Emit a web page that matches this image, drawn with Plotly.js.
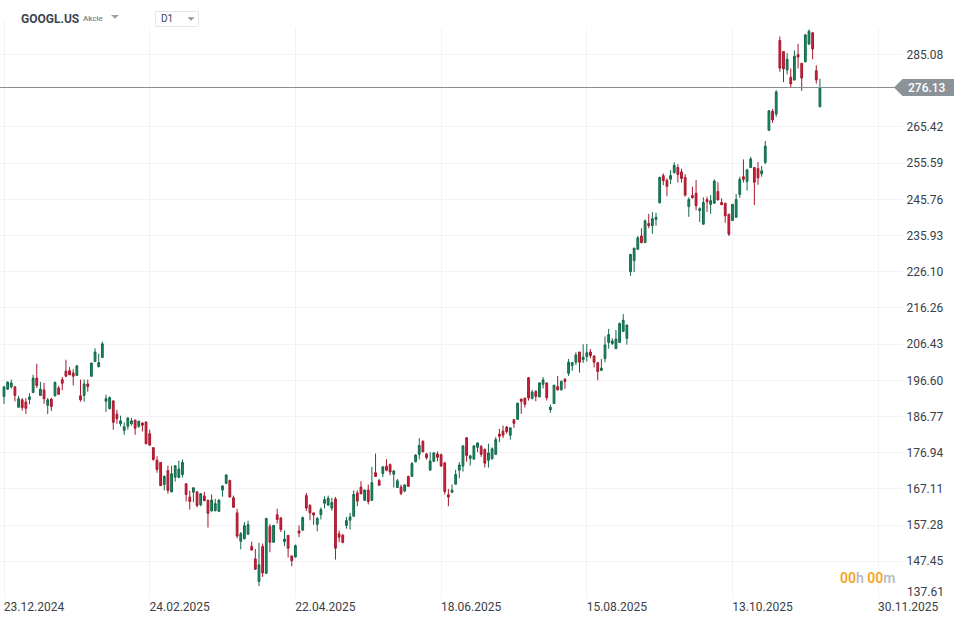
<!DOCTYPE html>
<html>
<head>
<meta charset="utf-8">
<script src="https://cdn.plot.ly/plotly-3.0.1.min.js"></script>
<style>html,body{margin:0;padding:0;background:#fff}#c{width:966px;height:623px}</style>
</head>
<body>
<div id="c"></div>
<script>
const opens = [192.2,194.2,194.8,194.8,189.3,191.3,190.7,191.4,193.3,197.2,
192.5,194.0,189.8,191.5,192.4,194.5,196.8,199.1,199.2,198.6,
197.9,192.4,192.5,195.6,197.7,201.7,200.3,202.8,190.9,188.9,
191.0,187.4,184.8,183.0,184.1,184.8,185.8,184.1,185.0,185.3,
182.1,178.3,174.9,174.3,168.3,172.1,166.3,170.3,170.2,171.0,
168.5,164.9,166.2,166.3,162.8,165.2,164.0,161.1,161.2,161.0,
166.8,168.6,169.4,164.7,160.6,152.9,153.6,154.8,151.5,148.1,
142.0,151.5,144.2,156.9,152.6,160.1,159.2,152.8,154.5,148.9,
148.6,155.7,155.9,165.3,162.6,160.6,157.5,160.1,163.2,162.7,
161.9,164.4,154.9,154.5,157.2,158.6,159.7,166.0,167.6,164.0,
166.8,164.0,171.5,169.4,171.3,173.3,173.7,171.1,167.5,167.6,
166.5,170.5,170.5,174.5,176.5,180.1,176.6,172.2,174.6,176.6,
176.4,174.2,165.5,166.2,168.4,172.2,173.3,181.0,175.4,175.2,
178.4,178.6,177.9,174.9,175.3,176.5,182.0,182.8,183.9,181.7,
185.9,186.0,191.5,191.8,197.3,191.7,193.6,192.1,195.5,195.9,
188.6,190.3,194.9,194.0,196.9,198.5,200.6,201.5,204.3,202.2,
203.0,204.3,203.2,201.4,199.3,202.5,206.9,206.6,205.2,206.9,
209.9,208.0,226.1,229.1,232.2,235.8,234.0,239.2,238.6,240.3,
244.8,252.2,250.9,251.2,253.0,254.4,253.2,251.7,243.8,246.8,
247.4,242.7,239.0,245.7,244.4,244.7,247.9,244.9,244.7,241.7,
240.0,240.9,247.1,251.9,250.6,254.4,254.4,254.1,252.7,255.8,
264.5,269.7,268.9,288.9,285.9,280.9,278.9,278.2,285.1,282.7,
283.1,287.9,291.0,280.7,270.9];
const highs = [195.1,196.3,196.8,195.1,192.4,191.8,191.8,193.1,198.1,201.1,
196.2,195.9,191.8,191.8,196.3,195.1,197.5,202.2,200.2,199.6,
200.8,196.8,196.8,196.8,201.4,205.3,203.8,207.1,192.7,192.2,
191.2,188.6,187.0,185.2,186.5,186.4,185.9,185.6,185.2,185.4,
183.2,178.5,176.0,174.4,170.8,173.4,173.4,173.5,174.8,175.1,
168.6,166.6,167.6,166.5,165.8,166.3,164.2,165.6,164.4,164.2,
168.1,171.0,169.6,165.3,161.7,155.4,158.1,158.5,152.8,150.8,
152.5,152.3,159.2,157.6,157.3,161.7,159.5,155.8,154.6,149.0,
152.0,157.2,159.6,166.0,163.0,160.6,159.5,162.1,165.1,165.3,
164.7,164.9,155.8,154.9,159.5,160.6,166.7,166.7,169.2,166.9,
168.3,173.1,176.7,169.8,173.3,175.2,174.0,172.2,169.8,168.3,
168.3,170.7,174.4,176.5,180.9,180.2,176.9,177.1,177.0,177.3,
176.7,174.3,167.1,168.3,172.3,174.4,178.9,181.2,176.2,178.9,
179.7,179.1,178.0,179.4,178.4,181.2,183.4,184.3,184.2,183.9,
186.1,190.5,191.6,191.8,197.5,194.0,193.9,196.0,197.5,196.0,
190.0,195.3,197.8,196.6,197.2,202.4,201.4,204.2,204.3,206.4,
206.5,205.1,203.4,201.5,202.4,208.5,210.6,208.0,210.3,212.3,
214.6,211.7,230.9,232.5,235.8,237.9,240.3,241.8,242.3,242.1,
251.9,252.8,251.5,253.7,255.8,255.3,254.1,252.6,246.3,249.2,
251.0,243.6,246.3,246.5,246.9,251.2,250.4,246.0,244.8,241.8,
244.5,247.2,251.9,256.6,254.1,257.3,254.4,255.9,254.8,261.6,
270.0,270.3,275.4,290.0,286.0,285.5,281.3,286.2,288.0,282.8,
290.7,291.9,291.1,282.2,278.5];
const lows = [190.2,194.0,194.4,190.9,189.2,188.4,187.5,190.1,193.1,194.5,
192.4,190.2,187.4,188.3,192.2,192.7,193.9,197.5,198.0,195.2,
197.8,190.8,190.8,193.5,197.6,201.6,200.1,202.7,188.0,188.7,
183.2,184.8,184.1,181.8,183.2,184.3,181.8,183.7,182.7,179.2,
178.9,174.8,171.5,167.9,166.7,165.8,166.2,169.1,170.1,170.2,
163.7,161.5,163.5,162.1,162.4,163.8,156.6,161.0,161.0,160.9,
165.0,168.4,164.8,162.1,153.7,150.7,153.4,154.7,150.4,145.1,
140.7,143.2,144.0,149.9,152.6,157.7,155.4,151.6,148.5,146.1,
148.5,154.0,155.8,161.1,158.6,157.4,155.6,158.8,161.8,162.6,
161.2,147.9,152.6,152.3,156.3,156.1,159.6,162.4,165.6,163.9,
162.9,163.9,170.4,168.0,170.3,171.9,170.8,167.5,167.4,165.4,
166.4,167.7,170.5,174.3,175.1,177.0,175.1,172.1,174.5,174.6,
173.2,165.6,162.4,166.1,168.3,170.0,171.8,174.5,173.4,175.1,
177.1,175.8,172.9,172.9,175.1,176.4,179.8,180.9,182.1,180.5,
183.7,185.9,187.5,189.2,191.1,191.4,190.9,192.0,194.4,191.1,
187.8,190.2,193.9,193.9,194.3,197.8,199.2,200.8,198.7,201.3,
201.7,202.6,200.1,196.6,199.2,201.5,205.2,206.2,205.1,206.8,
209.8,206.3,225.0,226.0,232.1,233.8,233.9,237.9,236.4,238.6,
244.7,249.6,246.6,249.9,252.8,250.3,250.3,246.5,241.0,246.0,
242.8,239.6,238.9,242.3,241.8,244.5,245.5,244.2,239.4,235.8,
239.9,240.7,246.2,250.3,248.1,254.3,244.2,249.7,251.9,255.3,
264.4,266.5,268.2,280.4,277.6,279.7,276.1,278.0,281.3,275.2,
283.0,287.9,283.8,277.2,270.8];
const closes = [194.8,196.1,195.9,192.5,191.6,189.2,189.0,192.1,197.2,195.2,
194.2,191.6,191.3,189.5,196.0,192.8,195.8,197.7,198.1,197.7,
200.5,191.3,195.6,194.9,201.3,204.3,201.4,206.5,191.6,191.9,
185.2,186.2,185.6,184.0,186.4,185.6,183.6,185.5,184.4,179.4,
179.0,175.1,172.4,168.0,170.5,166.7,171.2,173.4,172.5,174.3,
165.6,163.7,167.4,162.6,165.8,163.9,160.5,164.1,163.1,164.1,
167.9,170.9,164.9,162.1,154.3,154.9,157.1,157.4,150.5,145.3,
146.5,144.3,159.1,152.6,157.2,158.8,156.1,153.5,151.0,147.6,
151.7,155.1,159.3,161.9,160.6,160.0,159.1,161.5,164.2,164.6,
163.4,151.0,154.0,152.6,158.5,159.5,165.6,163.8,165.8,166.8,
163.7,168.8,170.5,168.1,173.1,172.2,171.7,172.0,169.3,165.9,
168.2,167.8,174.0,176.3,178.9,177.2,175.6,174.7,176.9,175.7,
173.3,166.4,164.9,166.8,171.0,173.6,178.8,176.2,176.1,178.8,
179.6,176.5,174.1,176.9,178.0,180.5,181.4,181.7,182.7,183.7,
184.9,190.4,190.9,190.1,191.8,193.4,192.2,195.9,196.7,191.9,
189.3,195.3,194.0,196.3,196.3,201.5,201.4,203.5,201.5,202.9,
204.1,203.3,201.5,199.0,199.9,206.2,209.0,207.3,207.8,212.0,
212.9,211.6,230.8,232.5,235.3,234.0,239.9,238.6,240.5,240.9,
251.7,250.8,249.3,252.2,255.0,252.5,251.4,246.9,245.7,246.2,
244.0,243.2,244.9,245.1,245.4,250.7,245.6,244.3,241.3,236.3,
244.4,245.7,251.2,251.2,253.7,256.7,250.4,251.6,253.5,260.2,
269.8,267.3,274.9,281.4,281.2,283.8,277.1,284.6,284.4,278.7,
290.4,291.4,286.6,278.2,276.13];
const dateTickIndex = [0,40,80,120,160,200,240];
const dateTickLabels = ['23.12.2024','24.02.2025','22.04.2025','18.06.2025','15.08.2025','13.10.2025','30.11.2025'];
const priceTicks = [285.08,265.42,255.59,245.76,235.93,226.10,216.26,206.43,196.60,186.77,176.94,167.11,157.28,147.45,137.61];
const priceLabels = ['285.08','265.42','255.59','245.76','235.93','226.10','216.26','206.43','196.60','186.77','176.94','167.11','157.28','147.45',''];
const lastPrice = 276.13;
const bottomPriceLabel = '137.61';
const symbol = 'GOOGL.US', assetClass = 'Akcie', timeframe = 'D1';

const barIndex = opens.map((_, i) => i);
const W = 902, TOP = 28, BOTTOM = 598;
const px = v => v / W;
const py = v => (BOTTOM - v) / (BOTTOM - TOP);
const FONT = 'Roboto, sans-serif';
const GREEN = '#1c8a62', GREEN_L = '#12694a', RED = '#cf2039', RED_L = '#a8182e';
const GRID = '#f1f3f5';

const trace = {
  type: 'candlestick', x: barIndex, open: opens, high: highs, low: lows, close: closes,
  increasing: {line: {color: GREEN_L, width: 1}, fillcolor: GREEN},
  decreasing: {line: {color: RED_L, width: 1}, fillcolor: RED},
  whiskerwidth: 0, showlegend: false, hoverinfo: 'skip'
};
const note = (text, x, y, o) => Object.assign({
  text, xref: 'paper', yref: 'paper', x: px(x), y: py(y), xanchor: 'left', yanchor: 'middle',
  showarrow: false, borderpad: 0, font: {family: FONT, size: 12, color: '#3a4047'}
}, o || {});

const layout = {
  width: 966, height: 623, paper_bgcolor: '#fff', plot_bgcolor: '#fff',
  margin: {l: 0, r: 966 - W, t: TOP, b: 623 - BOTTOM, pad: 0},
  showlegend: false, boxgap: 0.3, dragmode: false,
  font: {family: FONT, size: 12, color: '#3a4047'},
  xaxis: {
    type: 'linear', range: [-4 / 3.6425, (W - 4) / 3.6425], rangeslider: {visible: false},
    tickmode: 'array', tickvals: dateTickIndex, ticktext: dateTickLabels,
    showgrid: true, gridcolor: GRID, gridwidth: 1, zeroline: false, showline: false,
    ticks: '', ticklabelshift: 30, ticklabeloverflow: 'allow',
    tickfont: {family: FONT, size: 12, color: '#3a4047'}
  },
  yaxis: {
    type: 'linear', side: 'right', range: [137.48, 292.29],
    tickmode: 'array', tickvals: priceTicks, ticktext: priceLabels,
    showgrid: true, gridcolor: GRID, gridwidth: 1, zeroline: false, showline: false,
    ticks: 'outside', ticklen: 1, tickcolor: 'rgba(0,0,0,0)',
    tickfont: {family: FONT, size: 12, color: '#3a4047'}
  },
  shapes: [
    {type: 'line', xref: 'paper', yref: 'y', x0: 0, x1: px(895), y0: lastPrice, y1: lastPrice,
     line: {color: '#858c92', width: 1}},
    {type: 'path', xref: 'paper', yref: 'y', xsizemode: 'pixel', ysizemode: 'pixel',
     xanchor: px(894), yanchor: lastPrice,
     path: 'M0,0 L8.5,8.5 L60,8.5 L60,-8.5 L8.5,-8.5 Z',
     fillcolor: '#8b9298', line: {width: 0}},
    {type: 'path', xref: 'paper', yref: 'paper',
     path: `M${px(111)},${py(15)} L${px(119)},${py(15)} L${px(115)},${py(18.7)} Z`,
     fillcolor: '#9aa0a6', line: {width: 0}},
    {type: 'rect', xref: 'paper', yref: 'paper', x0: px(155.5), x1: px(198.5), y0: py(11.5), y1: py(26.5),
     fillcolor: '#fff', line: {color: '#e3e6e8', width: 1}},
    {type: 'path', xref: 'paper', yref: 'paper',
     path: `M${px(187.5)},${py(17.3)} L${px(194.5)},${py(17.3)} L${px(191)},${py(20.8)} Z`,
     fillcolor: '#8f959b', line: {width: 0}},
    {type: 'line', xref: 'paper', yref: 'paper', x0: px(4.5), x1: px(4.5), y0: py(20), y1: py(29),
     line: {color: GRID, width: 1}}
  ],
  annotations: [
    note(symbol, 19.5, 18.5, {font: {family: FONT, size: 12, color: '#3c4650', weight: 700}}),
    note(assetClass, 82, 19, {font: {family: FONT, size: 8, color: '#7c848b', weight: 500}}),
    note(timeframe, 160, 18.5, {font: {family: FONT, size: 10, color: '#3c4650'}}),
    note('<span style="color:#f5a623">00</span><span style="color:#b9bdc2">h</span> <span style="color:#f5a623">00</span><span style="color:#b9bdc2">m</span>', 839, 578,
      {font: {family: FONT, size: 14, color: '#b9bdc2', weight: 600}}),
    note(bottomPriceLabel, 906, 592),
    {text: String(lastPrice), xref: 'paper', yref: 'y', x: px(906), y: lastPrice, xanchor: 'left', yanchor: 'middle',
     showarrow: false, font: {family: FONT, size: 12, color: '#fff', weight: 500}}
  ]
};
Plotly.newPlot('c', [trace], layout, {displayModeBar: false, staticPlot: true});
</script>
</body>
</html>
